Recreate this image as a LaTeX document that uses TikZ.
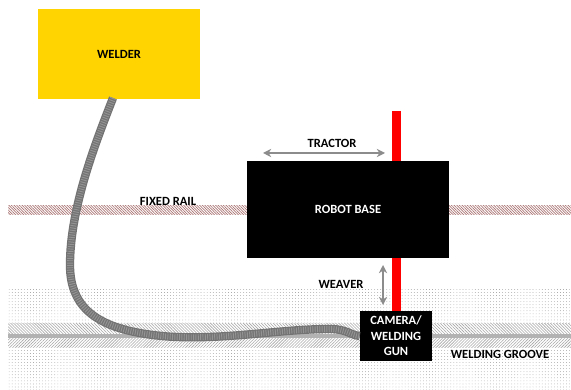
\documentclass[tikz,border=0pt]{standalone}
\usepackage{fontspec}
\setmainfont{Carlito}
\usetikzlibrary{patterns.meta,arrows.meta}
\definecolor{welderyellow}{HTML}{FFD400}
\begin{document}
\begin{tikzpicture}[
    box/.style={fill=black, text=white, font=\fontsize{10.7}{13.2}\selectfont\bfseries, align=center, inner sep=0pt},
    lbl/.style={font=\fontsize{10.7}{13}\selectfont\bfseries, inner sep=0pt},
    motion/.style={draw=black!45, line width=1.2pt, {Stealth[length=7pt,width=7pt]}-{Stealth[length=7pt,width=7pt]}},
    cable/.style={draw=black!55, line width=0.25cm, postaction={draw=black!42, line width=0.18cm, dash pattern=on 0.8pt off 1.2pt}},
    mast/.style={draw=red, line width=0.27cm}
  ]
  \useasboundingbox (0,0) rectangle (17.13,11.7);
  % ground and groove
  \fill[pattern={Dots[radius=0.3pt,distance=2.6pt]}, pattern color=black!50] (0.24,0) rectangle (17.13,3.03);
  \fill[white] (0.24,1.26) rectangle (17.13,1.98);
  \fill[pattern={Lines[angle=-45,distance=1.8pt,line width=0.5pt]}, pattern color=black!35] (0.24,1.62) rectangle (17.13,1.98);
  \fill[pattern={Lines[angle=45,distance=1.8pt,line width=0.5pt]}, pattern color=black!35] (0.24,1.26) rectangle (17.13,1.62);
  \fill[black!30] (0.24,1.56) rectangle (17.13,1.68);
  % rail
  \fill[pattern={Lines[angle=-45,distance=1.6pt,line width=0.6pt]}, pattern color=red!40!black!55] (0.24,5.25) rectangle (17.13,5.52);
  % mast behind the boxes
  \coordinate (masttop) at (11.89,8.37);
  \coordinate (mastbot) at (11.89,2.3);
  \draw[mast] (masttop) -- (mastbot);
  \node[box, minimum width=4.86cm, minimum height=2.7cm, fill=welderyellow, text=black] (welder) at (3.57,10.08) {WELDER};
  \node[box, minimum width=6.06cm, minimum height=2.91cm] (robot) at (10.44,5.415) {ROBOT BASE};
  \node[box, minimum width=2.16cm, minimum height=1.5cm] (camera) at (11.88,1.62) {CAMERA/\\WELDING\\GUN};
  \coordinate (cablestart) at (3.39,8.76);
  \draw[cable] (cablestart) .. controls (2.9,7.5) and (2.1,5.5) .. (2.1,3.75)
    .. controls (2.1,2.4) and (3.0,1.75) .. (5.1,1.6)
    .. controls (6.8,1.5) and (8.4,1.83) .. (9.9,1.83)
    .. controls (10.4,1.83) and (10.5,1.65) .. (camera.west);
  \coordinate (tractorl) at (7.89,7.11);
  \coordinate (tractorr) at (11.55,7.11);
  \draw[motion] (tractorl) -- (tractorr);
  \coordinate (weavert) at (11.49,3.75);
  \coordinate (weaverb) at (11.49,2.55);
  \draw[motion] (weavert) -- (weaverb);
  \node[lbl] (tractorlbl) at (9.96,7.41) {TRACTOR};
  \node[lbl] (weaverlbl) at (10.23,3.18) {WEAVER};
  \node[lbl] (raillbl) at (5.04,5.67) {FIXED RAIL};
  \node[lbl] (groovelbl) at (15.0,1.08) {WELDING GROOVE};
\end{tikzpicture}
\end{document}
